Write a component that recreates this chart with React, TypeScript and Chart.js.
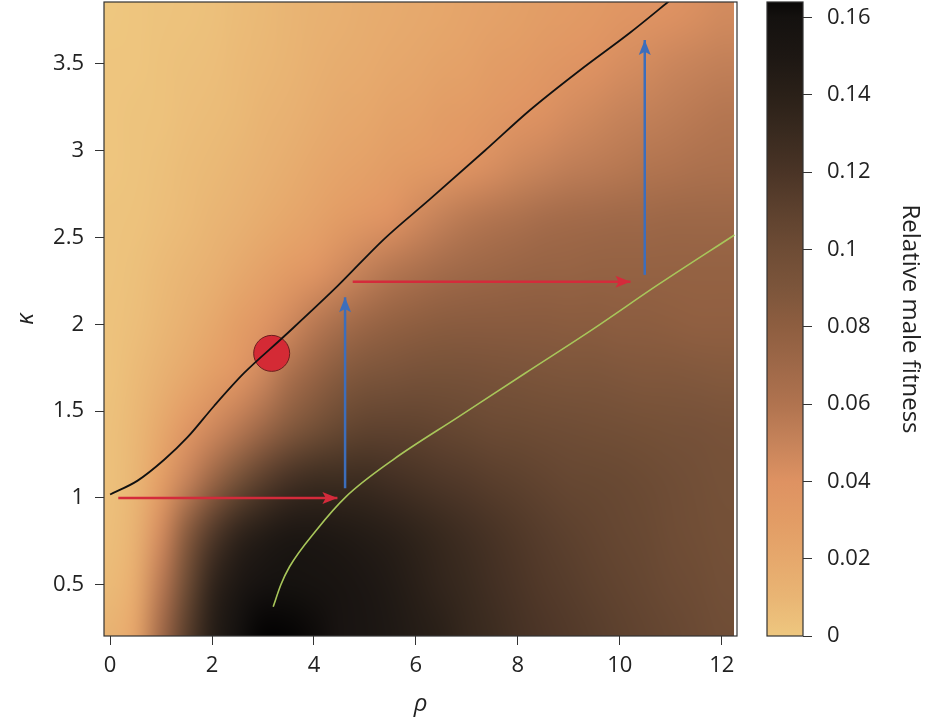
import React, { useEffect, useRef } from 'react';
import { Chart, registerables } from 'chart.js';

Chart.register(...registerables);

// grid of the fitness field (rho across, kappa up)
const rhoGrid = [0, 0.5, 1, 1.5, 2, 2.5, 3, 3.5, 4, 4.5, 5, 5.5, 6, 6.5, 7, 7.5, 8, 8.5, 9, 9.5, 10, 10.5, 11, 11.5, 12];
const kappaGrid = [0.2, 0.5, 0.8, 1.1, 1.4, 1.7, 2.0, 2.3, 2.6, 2.9, 3.2, 3.5, 3.8];

// relative male fitness, one row per kappa value
const k020 = [0.012, 0.024, 0.068, 0.112, 0.142, 0.160, 0.172, 0.171, 0.163, 0.156, 0.153, 0.149, 0.145, 0.140, 0.133, 0.128, 0.123, 0.119, 0.116, 0.113, 0.110, 0.107, 0.105, 0.102, 0.099];
const k050 = [0.007, 0.018, 0.056, 0.100, 0.135, 0.150, 0.158, 0.159, 0.157, 0.155, 0.151, 0.147, 0.141, 0.135, 0.130, 0.125, 0.120, 0.116, 0.113, 0.110, 0.107, 0.105, 0.102, 0.100, 0.097];
const k080 = [0.005, 0.013, 0.045, 0.082, 0.115, 0.135, 0.145, 0.150, 0.150, 0.148, 0.145, 0.141, 0.136, 0.131, 0.126, 0.121, 0.117, 0.113, 0.110, 0.107, 0.105, 0.103, 0.100, 0.098, 0.096];
const k110 = [0.004, 0.010, 0.028, 0.050, 0.072, 0.095, 0.112, 0.123, 0.128, 0.128, 0.128, 0.125, 0.121, 0.118, 0.115, 0.112, 0.110, 0.107, 0.105, 0.104, 0.103, 0.101, 0.099, 0.097, 0.095];
const k140 = [0.004, 0.009, 0.020, 0.035, 0.046, 0.056, 0.070, 0.085, 0.096, 0.104, 0.108, 0.109, 0.108, 0.106, 0.104, 0.102, 0.101, 0.100, 0.099, 0.098, 0.097, 0.096, 0.095, 0.094, 0.093];
const k170 = [0.003, 0.007, 0.013, 0.020, 0.028, 0.037, 0.048, 0.063, 0.075, 0.085, 0.090, 0.092, 0.094, 0.095, 0.094, 0.093, 0.092, 0.091, 0.090, 0.090, 0.089, 0.088, 0.088, 0.087, 0.086];
const k200 = [0.003, 0.005, 0.009, 0.014, 0.020, 0.028, 0.037, 0.046, 0.056, 0.065, 0.072, 0.077, 0.080, 0.082, 0.083, 0.083, 0.083, 0.083, 0.082, 0.082, 0.081, 0.081, 0.080, 0.079, 0.079];
const k230 = [0.002, 0.004, 0.007, 0.010, 0.014, 0.019, 0.025, 0.031, 0.037, 0.045, 0.052, 0.058, 0.063, 0.067, 0.070, 0.072, 0.074, 0.075, 0.075, 0.076, 0.076, 0.076, 0.076, 0.076, 0.076];
const k260 = [0.002, 0.003, 0.005, 0.007, 0.010, 0.013, 0.017, 0.021, 0.025, 0.030, 0.035, 0.040, 0.046, 0.052, 0.057, 0.060, 0.063, 0.066, 0.068, 0.069, 0.070, 0.070, 0.071, 0.071, 0.071];
const k290 = [0.001, 0.002, 0.004, 0.006, 0.008, 0.010, 0.013, 0.016, 0.020, 0.023, 0.026, 0.029, 0.032, 0.035, 0.039, 0.043, 0.047, 0.050, 0.053, 0.055, 0.057, 0.059, 0.060, 0.062, 0.063];
const k320 = [0.001, 0.002, 0.003, 0.005, 0.006, 0.008, 0.011, 0.013, 0.016, 0.019, 0.021, 0.024, 0.026, 0.029, 0.031, 0.034, 0.038, 0.041, 0.044, 0.047, 0.050, 0.052, 0.054, 0.056, 0.058];
const k350 = [0.001, 0.001, 0.003, 0.004, 0.005, 0.007, 0.009, 0.011, 0.014, 0.016, 0.018, 0.020, 0.022, 0.024, 0.026, 0.029, 0.031, 0.034, 0.037, 0.040, 0.043, 0.045, 0.048, 0.050, 0.052];
const k380 = [0.000, 0.001, 0.002, 0.003, 0.004, 0.006, 0.008, 0.010, 0.012, 0.014, 0.016, 0.018, 0.019, 0.021, 0.023, 0.025, 0.027, 0.029, 0.031, 0.033, 0.036, 0.038, 0.040, 0.042, 0.045];
const fitnessRows = [k020, k050, k080, k110, k140, k170, k200, k230, k260, k290, k320, k350, k380];

// colour scale
const cmapValues = [0, 0.01, 0.02, 0.03, 0.04, 0.05, 0.06, 0.07, 0.08, 0.09, 0.1, 0.11, 0.12, 0.13, 0.14, 0.15, 0.16, 0.164, 0.175];
const cmapColors = ['#EEC77F', '#E9B574', '#E6A86C', '#E29C65', '#DE9262', '#C6835A', '#B0734F', '#9E6848', '#8E5E40', '#7C553B', '#6E4C35', '#5D412E', '#4A3426', '#392A1F', '#2A2018', '#1D1713', '#14110F', '#0A0807', '#000000'];
const colorbarTicks = [0, 0.02, 0.04, 0.06, 0.08, 0.1, 0.12, 0.14, 0.16];
const colorbarMax = 0.164;

// curves
const blackCurve = [[0.0, 1.02], [0.54, 1.10], [1.06, 1.22], [1.52, 1.35], [2.04, 1.53], [2.63, 1.72], [3.41, 1.93], [4.46, 2.22], [5.37, 2.49], [6.27, 2.72], [7.35, 3.0], [8.24, 3.235], [9.2, 3.46], [10.2, 3.68], [11.0, 3.87]];
const greenCurve = [[3.20, 0.374], [3.35, 0.5], [3.52, 0.604], [4.05, 0.816], [4.63, 1.008], [5.55, 1.22], [6.85, 1.47], [8.15, 1.72], [9.46, 1.97], [10.76, 2.23], [12.25, 2.515]];
const redArrows = [[[0.16, 1.0], [4.46, 1.0]], [[4.76, 2.246], [10.21, 2.246]]];
const blueArrows = [[[4.61, 1.056], [4.61, 2.156]], [[10.49, 2.285], [10.49, 3.638]]];
const marker = [3.17, 1.833];

const rhoTicks = [0, 2, 4, 6, 8, 10, 12];
const kappaTicks = [0.5, 1, 1.5, 2, 2.5, 3, 3.5];

const FONT = '"Open Sans", "DejaVu Sans", sans-serif';
const INK = '#222';

function hexRgb(h: string) {
  return [parseInt(h.slice(1, 3), 16), parseInt(h.slice(3, 5), 16), parseInt(h.slice(5, 7), 16)];
}

function colourFor(v: number) {
  if (v <= cmapValues[0]) return hexRgb(cmapColors[0]);
  for (let i = 1; i < cmapValues.length; i++) {
    if (v <= cmapValues[i]) {
      const t = (v - cmapValues[i - 1]) / (cmapValues[i] - cmapValues[i - 1]);
      const a = hexRgb(cmapColors[i - 1]);
      const b = hexRgb(cmapColors[i]);
      return [0, 1, 2].map(k => Math.round(a[k] + (b[k] - a[k]) * t));
    }
  }
  return hexRgb(cmapColors[cmapColors.length - 1]);
}

// scales should not reserve room for half-labels; the layout padding does that
const noPad = (s: any) => {
  s.paddingTop = 0;
  s.paddingBottom = 0;
  s.paddingLeft = 0;
  s.paddingRight = 0;
};

const heatmapPlugin = {
  id: 'heatmap',
  beforeDatasetsDraw(chart: any) {
    const { ctx, chartArea, scales } = chart;
    const w = rhoGrid.length;
    const h = kappaGrid.length;
    const img = document.createElement('canvas');
    img.width = w;
    img.height = h;
    const ictx = img.getContext('2d')!;
    const pix = ictx.createImageData(w, h);
    for (let r = 0; r < h; r++) {
      const row = fitnessRows[h - 1 - r];
      for (let c = 0; c < w; c++) {
        const [cr, cg, cb] = colourFor(row[c]);
        const o = (r * w + c) * 4;
        pix.data[o] = cr;
        pix.data[o + 1] = cg;
        pix.data[o + 2] = cb;
        pix.data[o + 3] = 255;
      }
    }
    ictx.putImageData(pix, 0, 0);
    const dR = rhoGrid[1] - rhoGrid[0];
    const dK = kappaGrid[1] - kappaGrid[0];
    const x0 = scales.x.getPixelForValue(rhoGrid[0] - dR / 2);
    const x1 = scales.x.getPixelForValue(rhoGrid[w - 1] + dR / 2);
    const y0 = scales.y.getPixelForValue(kappaGrid[h - 1] + dK / 2);
    const y1 = scales.y.getPixelForValue(kappaGrid[0] - dK / 2);
    ctx.save();
    ctx.beginPath();
    ctx.rect(chartArea.left, chartArea.top, chartArea.right - chartArea.left, chartArea.bottom - chartArea.top);
    ctx.clip();
    ctx.imageSmoothingEnabled = true;
    ctx.imageSmoothingQuality = 'high';
    ctx.drawImage(img, x0, y0, x1 - x0, y1 - y0);
    ctx.restore();
  },
  afterDatasetsDraw(chart: any) {
    const { ctx } = chart;
    chart.data.datasets.forEach((ds: any, i: number) => {
      if (!ds.arrow) return;
      const pts = chart.getDatasetMeta(i).data;
      const a = pts[pts.length - 2];
      const b = pts[pts.length - 1];
      const ang = Math.atan2(b.y - a.y, b.x - a.x);
      const len = 15;
      const half = 6;
      ctx.save();
      ctx.translate(b.x, b.y);
      ctx.rotate(ang);
      ctx.beginPath();
      ctx.moveTo(0, 0);
      ctx.lineTo(-len, -half);
      ctx.lineTo(-len * 0.78, 0);
      ctx.lineTo(-len, half);
      ctx.closePath();
      ctx.fillStyle = ds.borderColor;
      ctx.fill();
      ctx.restore();
    });
  },
  afterDraw(chart: any) {
    const { ctx, chartArea } = chart;
    ctx.save();
    ctx.strokeStyle = '#333';
    ctx.lineWidth = 1.2;
    ctx.strokeRect(chartArea.left, chartArea.top, chartArea.right - chartArea.left, chartArea.bottom - chartArea.top);
    ctx.restore();
  },
};

const colorbarPlugin = {
  id: 'colorbar',
  beforeDatasetsDraw(chart: any) {
    const { ctx, chartArea, scales } = chart;
    const yb = scales.y.getPixelForValue(0);
    const yt = scales.y.getPixelForValue(colorbarMax);
    const g = ctx.createLinearGradient(0, yb, 0, yt);
    cmapValues.forEach((v, i) => {
      if (v <= colorbarMax) g.addColorStop(v / colorbarMax, cmapColors[i]);
    });
    ctx.save();
    ctx.fillStyle = g;
    ctx.fillRect(chartArea.left, yt, chartArea.right - chartArea.left, yb - yt);
    ctx.strokeStyle = '#333';
    ctx.lineWidth = 1.2;
    ctx.strokeRect(chartArea.left, chartArea.top, chartArea.right - chartArea.left, chartArea.bottom - chartArea.top);
    ctx.restore();
  },
};

const toXY = (pts: number[][]) => pts.map(([x, y]) => ({ x, y }));

export default function App() {
  const mainRef = useRef<HTMLCanvasElement | null>(null);
  const barRef = useRef<HTMLCanvasElement | null>(null);

  useEffect(() => {
    if (!mainRef.current || !barRef.current) return;

    const arrowSets = [
      ...redArrows.map(a => ({ data: toXY(a), borderColor: '#D42B3B', arrow: true })),
      ...blueArrows.map(a => ({ data: toXY(a), borderColor: '#3C6EBC', arrow: true })),
    ].map(d => ({ ...d, showLine: true, borderWidth: 2.5, pointRadius: 0 }));

    const main = new Chart(mainRef.current, {
      type: 'scatter',
      data: {
        datasets: [
          { data: toXY(blackCurve), showLine: true, borderColor: '#111', borderWidth: 1.8, pointRadius: 0, cubicInterpolationMode: 'monotone' },
          { data: toXY(greenCurve), showLine: true, borderColor: '#A8C65A', borderWidth: 1.6, pointRadius: 0, cubicInterpolationMode: 'monotone' },
          ...arrowSets,
          { data: [{ x: marker[0], y: marker[1] }], pointRadius: 18, backgroundColor: '#D42A35', borderColor: '#6B1E1E', borderWidth: 1 },
        ] as any,
      },
      options: {
        animation: false,
        responsive: false,
        events: [],
        layout: { autoPadding: false, padding: { top: 2, right: 8, left: 0, bottom: 0 } },
        plugins: { legend: { display: false }, tooltip: { enabled: false } },
        scales: {
          x: {
            type: 'linear',
            min: -0.12,
            max: 12.3,
            afterBuildTicks: (s: any) => { s.ticks = rhoTicks.map(v => ({ value: v })); },
            afterFit: (s: any) => { s.height = 85; noPad(s); },
            grid: { drawOnChartArea: false, drawTicks: true, tickLength: 9, color: '#333' },
            border: { display: false },
            ticks: { font: { family: FONT, size: 22 }, color: INK, padding: 8, maxRotation: 0, callback: (v: any) => String(v) },
            title: { display: true, text: 'ρ', font: { family: FONT, size: 24, style: 'italic' }, color: INK, padding: { top: 0, bottom: 2 } },
          },
          y: {
            type: 'linear',
            min: 0.205,
            max: 3.857,
            afterBuildTicks: (s: any) => { s.ticks = kappaTicks.map(v => ({ value: v })); },
            afterFit: (s: any) => { s.width = 104; noPad(s); },
            grid: { drawOnChartArea: false, drawTicks: true, tickLength: 9, color: '#333' },
            border: { display: false },
            ticks: { font: { family: FONT, size: 22 }, color: INK, padding: 11, callback: (v: any) => String(v) },
            title: { display: true, text: 'κ', font: { family: FONT, size: 24, style: 'italic' }, color: INK, padding: { top: 12, bottom: 0 } },
          },
        },
      } as any,
      plugins: [heatmapPlugin],
    });

    const bar = new Chart(barRef.current, {
      type: 'scatter',
      data: { datasets: [{ data: [] }] },
      options: {
        animation: false,
        responsive: false,
        events: [],
        layout: { autoPadding: false, padding: { top: 2, right: 0, left: 22, bottom: 85 } },
        plugins: { legend: { display: false }, tooltip: { enabled: false } },
        scales: {
          x: { display: false, min: 0, max: 1 },
          y: {
            type: 'linear',
            position: 'right',
            min: 0,
            max: colorbarMax,
            afterBuildTicks: (s: any) => { s.ticks = colorbarTicks.map(v => ({ value: v })); },
            afterFit: (s: any) => { s.width = 123; noPad(s); },
            grid: { drawOnChartArea: false, drawTicks: true, tickLength: 9, color: '#333' },
            border: { display: false },
            ticks: { font: { family: FONT, size: 22 }, color: INK, padding: 15, callback: (v: any) => String(v) },
            title: { display: true, text: 'Relative male fitness', font: { family: FONT, size: 24 }, color: INK, padding: { top: 2, bottom: 0 } },
          },
        },
      } as any,
      plugins: [colorbarPlugin],
    });

    return () => {
      main.destroy();
      bar.destroy();
    };
  }, []);

  return (
    <div style={{ position: 'fixed', left: 0, top: 0, width: 926, height: 721, background: '#fff' }}>
      <canvas ref={mainRef} width={745} height={721} style={{ position: 'absolute', left: 0, top: 0 }} />
      <canvas ref={barRef} width={181} height={721} style={{ position: 'absolute', left: 745, top: 0 }} />
    </div>
  );
}
